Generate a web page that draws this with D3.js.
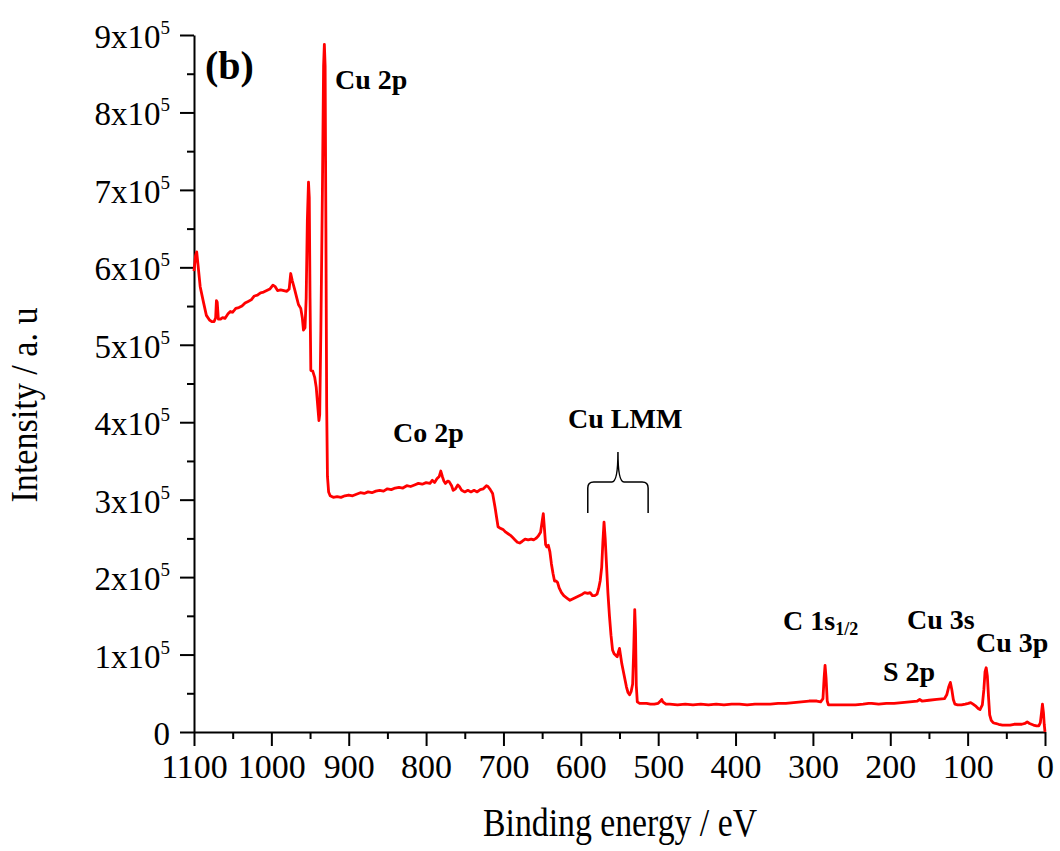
<!DOCTYPE html>
<html><head><meta charset="utf-8">
<script src="https://cdn.jsdelivr.net/npm/d3@7"></script>
<style>
body{margin:0;background:#fff;}
svg text{font-family:"Liberation Serif","Times New Roman",serif;}
</style></head>
<body><svg id="c" width="1060" height="851"></svg>
<script>
// Binding energy (eV) and intensity (x10^5 counts)
const energy = [1100,1098,1096.5,1095,1092,1088,1084,1080,1077,1074,1072,1071,1070,1068.5,1066,1063,1060,1056,1053,1050,1046,1042,1038,1034,1030,1026,1022,1018,1014,1010,1006,1002,998,995,992,988,984,980,977,975,973,970,967,965,962,960,958.5,956.5,955,953.5,952,951,950,949,946.5,944,942,940,938.5,937.5,936,934,932.5,931.5,930.5,929.5,928.5,927.5,926,924,920,915,910,905,900,895,890,885,880,875,870,865,860,855,850,845,840,835,830,825,820,815,810,805,800,795,792,789,786,783,781,779,777,775,772,770,767,765,762,759,757,754,750,746,742,738,734,730,726,722,720,717,714,711,709,707,704,700,697,694,691,688,685,682,679,676,672,668,664,661,658,655,652,650,648.5,647,645.5,644,642,640,638,636,634,632,630,628,625,622,618,614,610,606,602,598,595,591,588,585,582,579,577,575,573,571.5,570,568.5,567,565,563,561,559,557,555,553,551.5,550,548.5,547,545,543,541,539,537,535,533,531.5,530.3,529.3,528.3,527,524,520,515,510,505,500,497,495.5,494,490,485,475,465,455,445,435,425,415,405,395,385,375,365,355,345,335,325,315,305,295,290,287,285.5,284.3,283,281.5,280,275,265,255,245,235,228,224,215,205,195,185,175,165,162,159,150,140,130,127,124.5,122.3,120.5,118.5,116.5,113,108,103,99,96,93,89,86,84,81,79,77.5,76,74.5,73,71.5,69.5,67,64,60,55,50,45,40,35,30,26,23,20,15,11,8,6,4.5,3.3,2,1,0];
const intensity = [5.95,6.15,6.2,6.05,5.75,5.56,5.38,5.32,5.30,5.30,5.35,5.57,5.55,5.33,5.33,5.35,5.34,5.40,5.43,5.42,5.47,5.48,5.50,5.54,5.56,5.58,5.63,5.64,5.67,5.68,5.70,5.72,5.77,5.75,5.70,5.71,5.70,5.69,5.72,5.92,5.83,5.72,5.60,5.52,5.47,5.35,5.19,5.22,5.60,6.60,7.10,6.90,5.60,4.67,4.66,4.58,4.45,4.20,4.02,4.10,5.20,7.00,8.60,8.88,8.60,6.50,4.20,3.30,3.10,3.05,3.03,3.04,3.03,3.05,3.06,3.05,3.07,3.09,3.08,3.10,3.09,3.11,3.12,3.11,3.14,3.13,3.15,3.16,3.15,3.18,3.17,3.19,3.21,3.20,3.22,3.21,3.25,3.22,3.27,3.30,3.37,3.30,3.24,3.21,3.24,3.23,3.18,3.12,3.14,3.19,3.17,3.12,3.10,3.12,3.10,3.12,3.10,3.13,3.14,3.18,3.17,3.13,3.08,2.91,2.78,2.65,2.63,2.61,2.58,2.56,2.54,2.51,2.48,2.45,2.44,2.46,2.49,2.48,2.49,2.48,2.50,2.53,2.58,2.72,2.82,2.62,2.42,2.39,2.41,2.33,2.17,2.05,1.95,1.95,1.93,1.86,1.80,1.76,1.73,1.70,1.72,1.74,1.76,1.78,1.80,1.79,1.80,1.76,1.76,1.78,1.85,1.95,2.13,2.45,2.71,2.50,2.20,1.80,1.50,1.25,1.06,1.01,0.99,0.97,1.03,1.08,0.98,0.88,0.78,0.68,0.58,0.51,0.48,0.52,0.62,1.10,1.58,1.30,0.60,0.39,0.37,0.37,0.37,0.36,0.36,0.37,0.40,0.42,0.39,0.36,0.36,0.35,0.36,0.35,0.36,0.35,0.36,0.35,0.36,0.36,0.35,0.36,0.36,0.36,0.37,0.37,0.38,0.39,0.40,0.40,0.39,0.43,0.70,0.86,0.70,0.40,0.35,0.35,0.35,0.35,0.35,0.36,0.37,0.37,0.36,0.37,0.37,0.38,0.39,0.40,0.42,0.40,0.41,0.42,0.43,0.48,0.58,0.64,0.55,0.42,0.36,0.35,0.35,0.36,0.37,0.38,0.36,0.33,0.30,0.29,0.35,0.55,0.78,0.83,0.72,0.45,0.22,0.15,0.12,0.11,0.10,0.09,0.09,0.09,0.10,0.10,0.10,0.11,0.13,0.11,0.09,0.08,0.08,0.12,0.25,0.36,0.25,0.10,0.00];
const intensityScale = 1e5;

const xTicks = [1100,1000,900,800,700,600,500,400,300,200,100,0];
const xMinorTicks = [1050,950,850,750,650,550,450,350,250,150,50];
const yTicks = [0,1,2,3,4,5,6,7,8,9];
const yMinorTicks = [0.5,1.5,2.5,3.5,4.5,5.5,6.5,7.5,8.5];
const xTitle = "Binding energy / eV";
const yTitle = "Intensity / a. u";

const svg = d3.select("#c");
const x = d3.scaleLinear().domain([1100,0]).range([194,1045]);
const y = d3.scaleLinear().domain([0,9e5]).range([732,35]);

const data = energy.map((e,k)=>({e, v:intensity[k]*intensityScale}));

// minor ticks
svg.append("g").attr("transform","translate(0,732)")
  .call(d3.axisBottom(x).tickValues(xMinorTicks).tickSize(7).tickFormat("").tickSizeOuter(0))
  .call(g=>g.select(".domain").remove())
  .call(g=>g.selectAll("line").attr("stroke","#000").attr("stroke-width",2));
svg.append("g").attr("transform","translate(194,0)")
  .call(d3.axisLeft(y).tickValues(yMinorTicks.map(d=>d*1e5)).tickSize(7).tickFormat("").tickSizeOuter(0))
  .call(g=>g.select(".domain").remove())
  .call(g=>g.selectAll("line").attr("stroke","#000").attr("stroke-width",2));

// major x axis
svg.append("g").attr("transform","translate(0,732)")
  .call(d3.axisBottom(x).tickValues(xTicks).tickSize(14).tickPadding(8).tickSizeOuter(0).tickFormat(d3.format("d")))
  .call(g=>g.select(".domain").attr("stroke","#000").attr("stroke-width",2))
  .call(g=>g.selectAll("line").attr("stroke","#000").attr("stroke-width",2))
  .call(g=>g.selectAll("text").attr("font-size",34).attr("fill","#000")
     .style("font-family","'Liberation Serif',serif"));

// major y axis
const yAx = svg.append("g").attr("transform","translate(194,0)")
  .call(d3.axisLeft(y).tickValues(yTicks.map(d=>d*1e5)).tickSize(14).tickPadding(10).tickSizeOuter(0).tickFormat(""))
  .call(g=>g.select(".domain").attr("stroke","#000").attr("stroke-width",2))
  .call(g=>g.selectAll("line").attr("stroke","#000").attr("stroke-width",2));
yAx.selectAll(".tick text").each(function(d){
  const t = d3.select(this).attr("font-size",33).attr("fill","#000").attr("dy","0.38em")
     .style("font-family","'Liberation Serif',serif");
  const k = Math.round(d/1e5);
  if(k===0){ t.text("0"); }
  else {
    t.text(null);
    t.append("tspan").text(k+"x10");
    t.append("tspan").attr("font-size",19).attr("dy",-14).text("5");
  }
});

// curve
svg.append("path").datum(data)
  .attr("fill","none").attr("stroke","#ff0000").attr("stroke-width",2.8)
  .attr("stroke-linejoin","round")
  .attr("d", d3.line().x(d=>x(d.e)).y(d=>y(d.v)));

// axis titles
svg.append("text").attr("x",620).attr("y",836).attr("text-anchor","middle")
  .attr("font-size",40).attr("textLength",274).attr("lengthAdjust","spacingAndGlyphs")
  .text(xTitle);
svg.append("text").attr("transform","translate(37,405) rotate(-90)").attr("text-anchor","middle")
  .attr("font-size",38).attr("textLength",195).attr("lengthAdjust","spacingAndGlyphs")
  .text(yTitle);

// annotations
const ann = svg.append("g").attr("font-weight","bold").attr("fill","#000");
ann.append("text").attr("x",205).attr("y",79).attr("font-size",40).text("(b)");
ann.append("text").attr("x",335).attr("y",89).attr("font-size",28).text("Cu 2p");
ann.append("text").attr("x",393).attr("y",442).attr("font-size",28).text("Co 2p");
ann.append("text").attr("x",568).attr("y",428).attr("font-size",28).text("Cu LMM");
const c1s = ann.append("text").attr("x",783).attr("y",630).attr("font-size",28);
c1s.append("tspan").text("C 1s");
c1s.append("tspan").attr("font-size",18).attr("dy",5).text("1/2");
ann.append("text").attr("x",907).attr("y",629).attr("font-size",28).text("Cu 3s");
ann.append("text").attr("x",883).attr("y",681).attr("font-size",28).text("S 2p");
ann.append("text").attr("x",976).attr("y",652).attr("font-size",28).text("Cu 3p");

// brace over Cu LMM region
const bL = x(591), bR = x(513), bM = x(552), bTop = 452, bMid = 482, bBot = 513;
const r = 6;
svg.append("path").attr("fill","none").attr("stroke","#000").attr("stroke-width",1.5)
  .attr("d",`M${bL},${bBot} L${bL},${bMid+r} Q${bL},${bMid} ${bL+r},${bMid} L${bM-6},${bMid} Q${bM},${bMid} ${bM},${bTop}
             Q${bM},${bMid} ${bM+6},${bMid} L${bR-r},${bMid} Q${bR},${bMid} ${bR},${bMid+r} L${bR},${bBot}`);
</script></body></html>
